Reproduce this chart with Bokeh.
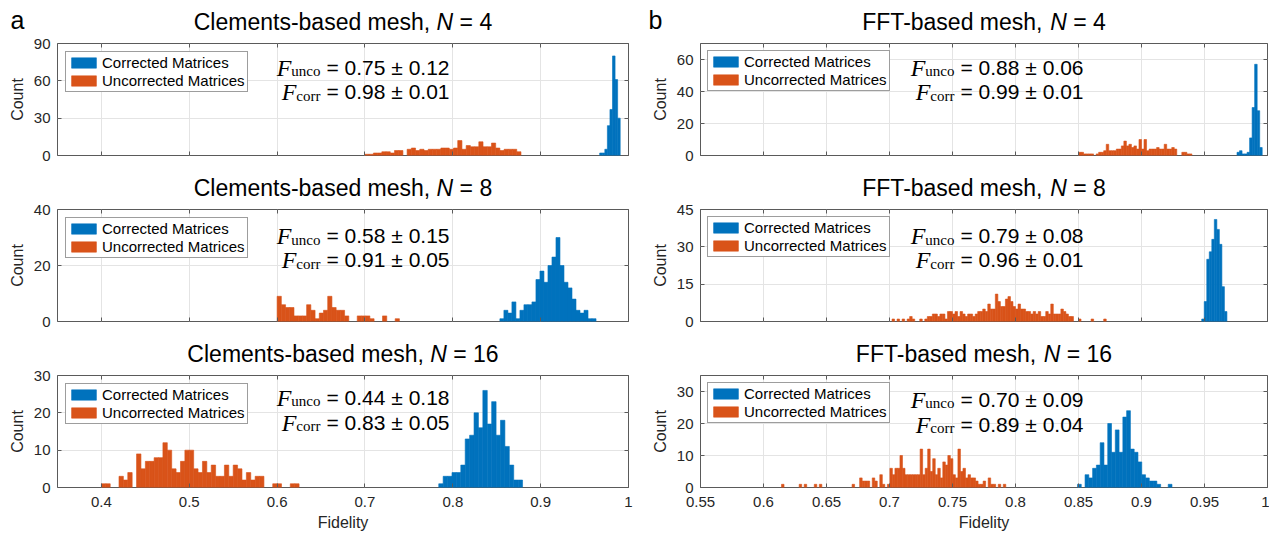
import math
from bokeh.plotting import figure
from bokeh.models import (Range1d, FixedTicker, LinearAxis, Label, Legend, LegendItem,
                          ColumnDataSource, CustomJSTickFormatter)
from bokeh.layouts import column, row
from bokeh.embed import file_html
from bokeh.resources import INLINE

# ---------------- data ----------------
mesh_sizes = ["4", "8", "16"]
clem_unco_stats = ["0.75 ± 0.12", "0.58 ± 0.15", "0.44 ± 0.18"]
clem_corr_stats = ["0.98 ± 0.01", "0.91 ± 0.05", "0.83 ± 0.05"]
fft_unco_stats = ["0.88 ± 0.06", "0.79 ± 0.08", "0.70 ± 0.09"]
fft_corr_stats = ["0.99 ± 0.01", "0.96 ± 0.01", "0.89 ± 0.04"]

# Clements N=4
clem4_corr_start, clem4_corr_binw = 0.9672, 0.00292
clem4_corr_counts = [2, 2, 5, 24, 37, 80, 61, 30]
clem4_unc_start, clem4_unc_binw = 0.700, 0.0048
clem4_unc_counts = [1, 1, 2, 2, 3, 3, 2, 4, 4, 0, 5, 6, 4, 5, 4, 5, 5, 5, 6, 6,
                    5, 6, 12, 5, 8, 7, 7, 11, 7, 7, 10, 6, 4, 5, 5, 5, 3]
# Clements N=8
clem8_corr_start, clem8_corr_binw = 0.8536, 0.00456
clem8_corr_counts = [1, 4, 3, 7, 1, 4, 6, 6, 7, 15, 18, 14, 20, 23, 30, 20, 14, 12,
                     8, 4, 3, 4, 1, 1]
clem8_unc_start, clem8_unc_binw = 0.600, 0.0048
clem8_unc_counts = [9, 6, 5, 5, 2, 2, 2, 6, 4, 1, 3, 4, 9, 5, 4, 4, 2, 0, 0, 2,
                    2, 2, 1, 0, 0, 2, 0, 0, 1]
# Clements N=16
clem16_corr_start, clem16_corr_binw = 0.784, 0.00502
clem16_corr_counts = [1, 3, 3, 4, 4, 6, 13, 14, 20, 16, 26, 17, 23, 14, 18, 11, 6, 2, 2]
clem16_unc_start, clem16_unc_binw = 0.400, 0.005
clem16_unc_counts = [1, 1, 0, 0, 3, 2, 4, 0, 9, 5, 7, 7, 8, 8, 12, 10, 5, 4, 7, 10,
                     10, 5, 4, 7, 4, 6, 3, 3, 6, 3, 6, 5, 2, 4, 2, 3, 3, 0, 0, 1,
                     1, 0, 0, 1, 1]
# FFT N=4
fft4_corr_start, fft4_corr_binw = 0.9758, 0.002
fft4_corr_counts = [2, 3, 1, 1, 2, 11, 30, 57, 28, 5]
fft4_unc_start, fft4_unc_binw = 0.850, 0.002
fft4_unc_counts = [2, 2, 1, 1, 1, 1, 0, 1, 2, 2, 3, 7, 3, 3, 3, 4, 4, 6, 9, 6,
                   7, 5, 6, 4, 10, 4, 10, 3, 4, 4, 4, 5, 4, 4, 7, 4, 4, 5, 4, 0,
                   0, 2, 2, 1, 1, 0]
# FFT N=8
fft8_corr_start, fft8_corr_binw = 0.9478, 0.002
fft8_corr_counts = [1, 8, 25, 28, 33, 41, 37, 31, 14, 4]
fft8_unc_start, fft8_unc_binw = 0.702, 0.002
fft8_unc_counts = [1, 0, 1, 0, 1, 0, 1, 2, 1, 0, 0, 1, 0, 1, 2, 2, 3, 3, 2, 3,
                   3, 1, 4, 4, 3, 4, 2, 4, 3, 2, 3, 3, 2, 3, 4, 4, 5, 4, 7, 5,
                   5, 11, 8, 6, 6, 9, 10, 8, 6, 5, 7, 5, 5, 4, 4, 3, 4, 3, 4, 2,
                   2, 4, 3, 7, 3, 3, 3, 5, 4, 3, 2, 2, 0, 0, 1, 0, 0, 0, 0, 1,
                   0, 0, 0, 0, 1]
# FFT N=16
fft16_corr_start, fft16_corr_binw = 0.8492, 0.003
fft16_corr_counts = [1, 0, 4, 3, 6, 7, 14, 7, 20, 11, 18, 11, 22, 24, 12, 11, 8, 4,
                     3, 2, 2, 1, 0, 0, 1]
fft16_unc_start, fft16_unc_binw = 0.6143, 0.002
fft16_unc_counts = [1, 0, 0, 0, 0, 0, 0, 1, 0, 1, 0, 0, 0, 1, 0, 1, 0, 0, 0, 0,
                    0, 0, 0, 0, 0, 0, 0, 0, 1, 0, 0, 3, 2, 2, 2, 0, 3, 2, 0, 4,
                    1, 0, 1, 6, 4, 6, 6, 10, 6, 4, 4, 4, 4, 4, 4, 12, 4, 6, 12, 5,
                    9, 4, 6, 3, 8, 7, 10, 9, 4, 3, 12, 5, 6, 3, 4, 3, 3, 2, 1, 1,
                    2, 0, 3, 1, 1, 0, 1, 0, 1]

clem_xticks = [0.4, 0.5, 0.6, 0.7, 0.8, 0.9, 1.0]
clem_xlabels = ["0.4", "0.5", "0.6", "0.7", "0.8", "0.9", "1"]
fft_xticks = [0.55, 0.6, 0.65, 0.7, 0.75, 0.8, 0.85, 0.9, 0.95, 1.0]
fft_xlabels = ["0.55", "0.6", "0.65", "0.7", "0.75", "0.8", "0.85", "0.9", "0.95", "1"]
clem_ylims = [90, 40, 30]
fft_ylims = [70, 45, 35]
clem_yticks = [[0, 30, 60, 90], [0, 20, 40], [0, 10, 20, 30]]
fft_yticks = [[0, 20, 40, 60], [0, 15, 30, 45], [0, 10, 20, 30]]

# ---------------- style ----------------
BLUE = "#0072BD"
ORANGE = "#D95319"
SANS = "Liberation Sans"
SERIF = "Liberation Serif"
AXC = "#5a5a5a"
TXT = "#262626"
FRAME_H = 112
TITLE_H = [34, 26, 26]
PLOT_TOP = 9
PLOT_BOTTOM = [19, 19, 48]

SANS_W = {' ': 278, ',': 278, '-': 333, '.': 278, '=': 584, '±': 549, 'C': 722,
          'F': 611, 'T': 611, 'N': 722, 'a': 556, 'b': 556, 'd': 556, 'e': 556,
          'h': 556, 'l': 222, 'm': 833, 'n': 556, 's': 500, 't': 278}
SERIF_W = {'F': 611, 'u': 500, 'n': 500, 'c': 444, 'o': 500, 'r': 333}


def tw(s, size, table=SANS_W):
    return sum(table.get(c, 556) for c in s) * size / 1000.0


def add_label(p, x, y, text, size, font=SANS, style="normal", align="left",
              color="#000000"):
    p.add_layout(Label(x=x, y=y, text=text, text_font=font, text_font_size=f"{size}px",
                       text_font_style=style, text_align=align, text_baseline="middle",
                       text_color=color))


def add_hist(p, start, binw, counts, color):
    lefts, rights, tops = [], [], []
    for i, c in enumerate(counts):
        if c > 0:
            lefts.append(start + i * binw)
            rights.append(start + (i + 1) * binw)
            tops.append(c)
    src = ColumnDataSource(dict(left=lefts, right=rights, top=tops, bottom=[0] * len(tops)))
    return p.quad(left="left", right="right", top="top", bottom="bottom", source=src,
                  fill_color=color, line_color=color, line_width=0.6)


def style_axis(ax, ticks, show_labels, overrides=None):
    ax.ticker = FixedTicker(ticks=ticks)
    ax.axis_line_color = None
    ax.major_tick_in = 4
    ax.major_tick_out = 0
    ax.minor_tick_line_color = None
    ax.major_tick_line_color = AXC
    ax.major_tick_line_width = 1
    if show_labels:
        ax.major_label_text_font = SANS
        ax.major_label_text_font_size = "15px"
        ax.major_label_text_color = TXT
        if overrides:
            ax.major_label_overrides = overrides
    else:
        ax.formatter = CustomJSTickFormatter(code="return ''")
        ax.major_label_text_font_size = "0px"
        ax.major_label_standoff = 0


def col_geom(col):
    # (figure width, left border, frame width)
    return (636, 57, 571) if col == 0 else (633, 64, 567)


def build_title(col, r, mesh_name, n, letter, letter_x):
    w, mbl, fw = col_geom(col)
    h = TITLE_H[r]
    p = figure(width=w, height=h, x_range=Range1d(0, w), y_range=Range1d(0, h),
               output_backend="svg", toolbar_location=None, tools="",
               x_axis_location=None, y_axis_location=None, min_border=0)
    for g in p.grid:
        g.visible = False
    p.outline_line_color = None
    p.background_fill_color = "white"
    p.border_fill_color = "white"
    fs = 23
    pre = mesh_name + ","
    W = tw(pre + " ", fs) + tw("N", fs) + tw(" = " + n, fs)
    cx = mbl + fw / 2.0
    ty = 12.9
    x = cx - W / 2.0
    add_label(p, x, ty, pre, fs)
    x += tw(pre + " ", fs)
    add_label(p, x, ty, "N", fs, style="italic")
    x += tw("N ", fs)
    add_label(p, x, ty, "= " + n, fs)
    if letter:
        add_label(p, letter_x, 14.2, letter, 25)
    return p


def build_plot(col, r, hist_corr, hist_unc, xr, yr, xt, xl, yt, unco_s, corr_s,
               eq_off, center_offs, legend_margin):
    w, mbl, fw = col_geom(col)
    mbr = w - mbl - fw
    mbb = PLOT_BOTTOM[r]
    h = PLOT_TOP + FRAME_H + mbb
    x0, x1 = xr
    y0, y1 = yr
    p = figure(width=w, height=h, x_range=Range1d(x0, x1), y_range=Range1d(y0, y1),
               output_backend="svg", toolbar_location=None, tools="",
               min_border_left=mbl, min_border_right=mbr, min_border_top=PLOT_TOP,
               min_border_bottom=mbb)
    p.background_fill_color = "white"
    p.border_fill_color = "white"
    p.outline_line_color = AXC
    p.outline_line_width = 1
    ppx = fw / (x1 - x0)
    ppy = FRAME_H / (y1 - y0)

    is_bottom = r == 2
    xa = p.xaxis[0]
    style_axis(xa, xt, is_bottom, {t: s for t, s in zip(xt, xl)})
    if is_bottom:
        xa.major_label_standoff = 9
        xa.axis_label = "Fidelity"
        xa.axis_label_text_font = SANS
        xa.axis_label_text_font_size = "16px"
        xa.axis_label_text_font_style = "normal"
        xa.axis_label_text_color = TXT
        xa.axis_label_standoff = 4
    ya = p.yaxis[0]
    style_axis(ya, yt, True)
    ya.major_label_standoff = 7
    ya.axis_label = "Count"
    ya.axis_label_text_font = SANS
    ya.axis_label_text_font_size = "16px"
    ya.axis_label_text_font_style = "normal"
    ya.axis_label_text_color = TXT
    ya.axis_label_standoff = 5

    top_ax = LinearAxis()
    p.add_layout(top_ax, "above")
    style_axis(top_ax, xt, False)
    right_ax = LinearAxis()
    p.add_layout(right_ax, "right")
    style_axis(right_ax, yt, False)

    p.xgrid.ticker = FixedTicker(ticks=xt)
    p.ygrid.ticker = FixedTicker(ticks=yt)
    p.xgrid.grid_line_color = "#e4e4e4"
    p.ygrid.grid_line_color = "#e4e4e4"

    rb = add_hist(p, *hist_corr, BLUE)
    ro = add_hist(p, *hist_unc, ORANGE)

    legend = Legend(items=[LegendItem(label="Corrected Matrices", renderers=[rb]),
                           LegendItem(label="Uncorrected Matrices", renderers=[ro])],
                    location="top_left", margin=legend_margin, padding=2, spacing=1,
                    glyph_width=31, glyph_height=13, label_height=17, label_standoff=3,
                    label_text_font=SANS, label_text_font_size="15px",
                    label_text_color="#000000", border_line_color="#3c3c3c",
                    border_line_width=1, background_fill_color="white",
                    background_fill_alpha=1.0)
    p.add_layout(legend)

    # statistics annotation (vertical centres measured from the frame top)
    x_eq = x0 + eq_off / ppx
    for sub, val, coff in (("unco", unco_s, center_offs[0]), ("corr", corr_s, center_offs[1])):
        yc = y1 - coff / ppy
        add_label(p, x_eq, yc, "= " + val, 21)
        add_label(p, x_eq - 6 / ppx, y1 - (coff + 4) / ppy, sub, 15, font=SERIF, align="right")
        add_label(p, x_eq - (6 + tw(sub, 15, SERIF_W)) / ppx, y1 - (coff + 0.5) / ppy, "F", 24,
                  font=SERIF, style="italic", align="right")
    return p


clem_hists = [
    ((clem4_corr_start, clem4_corr_binw, clem4_corr_counts), (clem4_unc_start, clem4_unc_binw, clem4_unc_counts)),
    ((clem8_corr_start, clem8_corr_binw, clem8_corr_counts), (clem8_unc_start, clem8_unc_binw, clem8_unc_counts)),
    ((clem16_corr_start, clem16_corr_binw, clem16_corr_counts), (clem16_unc_start, clem16_unc_binw, clem16_unc_counts)),
]
fft_hists = [
    ((fft4_corr_start, fft4_corr_binw, fft4_corr_counts), (fft4_unc_start, fft4_unc_binw, fft4_unc_counts)),
    ((fft8_corr_start, fft8_corr_binw, fft8_corr_counts), (fft8_unc_start, fft8_unc_binw, fft8_unc_counts)),
    ((fft16_corr_start, fft16_corr_binw, fft16_corr_counts), (fft16_unc_start, fft16_unc_binw, fft16_unc_counts)),
]
clem_centers = [(23.5, 48), (26, 50), (21.5, 46.5)]
fft_centers = [(23.5, 48), (26, 50), (23.5, 48.5)]

rows = []
for r in range(3):
    rows.append(row(build_title(0, r, "Clements-based mesh", mesh_sizes[r], "a" if r == 0 else None, 10),
                    build_title(1, r, "FFT-based mesh", mesh_sizes[r], "b" if r == 0 else None, 12)))
    rows.append(row(
        build_plot(0, r, clem_hists[r][0], clem_hists[r][1], (0.35, 1.0), (0, clem_ylims[r]),
                   clem_xticks, clem_xlabels, clem_yticks[r], clem_unco_stats[r],
                   clem_corr_stats[r], 269, clem_centers[r], 8),
        build_plot(1, r, fft_hists[r][0], fft_hists[r][1], (0.55, 1.0), (0, fft_ylims[r]),
                   fft_xticks, fft_xlabels, fft_yticks[r], fft_unco_stats[r],
                   fft_corr_stats[r], 260, fft_centers[r], 7)))

layout = column(*rows)
open("out.html", "w").write(file_html(layout, INLINE))
